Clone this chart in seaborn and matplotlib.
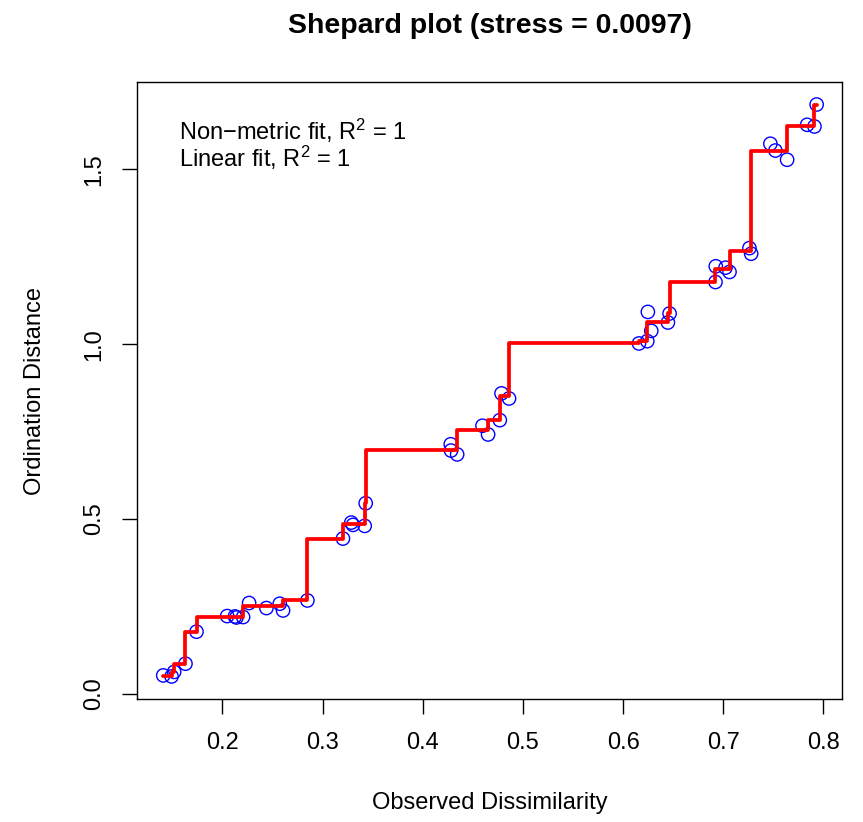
import matplotlib
matplotlib.use("Agg")
import matplotlib.pyplot as plt
import seaborn as sns
import pandas as pd

# Observed dissimilarity (sorted), ordination distance, and monotone (non-metric) fit
dissimilarity = [0.1409, 0.1492, 0.1518, 0.1631, 0.1741, 0.2047, 0.2124, 0.2140, 0.2206,
                 0.2266, 0.2439, 0.2572, 0.2605, 0.2848, 0.3203, 0.3286, 0.3303, 0.3420,
                 0.3430, 0.4279, 0.4282, 0.4343, 0.4596, 0.4652, 0.4769, 0.4786, 0.4861,
                 0.6158, 0.6241, 0.6247, 0.6281, 0.6447, 0.6464, 0.6922, 0.6925, 0.7022,
                 0.7062, 0.7261, 0.7278, 0.7470, 0.7520, 0.7637, 0.7837, 0.7910, 0.7932]
ordination = [0.053, 0.050, 0.063, 0.0865, 0.178, 0.2227, 0.2216, 0.2187, 0.2199,
              0.260, 0.2456, 0.258, 0.2387, 0.2673, 0.4443, 0.490, 0.4834, 0.4806,
              0.5454, 0.714, 0.696, 0.685, 0.767, 0.742, 0.783, 0.8595, 0.845,
              1.0023, 1.0089, 1.0925, 1.0383, 1.0622, 1.088, 1.178, 1.223, 1.219,
              1.2068, 1.275, 1.259, 1.5734, 1.554, 1.5277, 1.6276, 1.6228, 1.6856]
fitted = [0.0515, 0.0515, 0.063, 0.0865, 0.178, 0.2207, 0.2207, 0.2207, 0.2207,
          0.2506, 0.2506, 0.2506, 0.2506, 0.2673, 0.4443, 0.4847, 0.4847, 0.4847,
          0.5454, 0.698, 0.698, 0.698, 0.7545, 0.7545, 0.783, 0.852, 0.852,
          1.0023, 1.0089, 1.0643, 1.0643, 1.0643, 1.088, 1.178, 1.2163, 1.2163,
          1.2163, 1.267, 1.267, 1.5517, 1.5517, 1.5517, 1.6252, 1.6252, 1.6856]

x_ticks = [0.2, 0.3, 0.4, 0.5, 0.6, 0.7, 0.8]
y_ticks = [0.0, 0.5, 1.0, 1.5]
title = "Shepard plot (stress = 0.0097)"
legend_lines = ["Non\u2212metric fit, R$^{2}$ = 1", "Linear fit, R$^{2}$ = 1"]

df = pd.DataFrame({"dis": dissimilarity, "ord": ordination, "fit": fitted})

sns.set_style("white")
plt.rcParams["font.family"] = ["Liberation Sans", "DejaVu Sans"]
plt.rcParams["mathtext.fontset"] = "custom"
plt.rcParams["mathtext.rm"] = "Liberation Sans"
plt.rcParams["mathtext.it"] = "Liberation Sans:italic"
plt.rcParams["mathtext.bf"] = "Liberation Sans:bold"
plt.rcParams["text.color"] = "black"
plt.rcParams["axes.labelcolor"] = "black"
plt.rcParams["xtick.color"] = "black"
plt.rcParams["ytick.color"] = "black"

W, H = 863, 822
fig = plt.figure(figsize=(W / 100, H / 100), dpi=100)
ax = fig.add_axes([137 / W, 1 - 699 / H, (842 - 137) / W, (699 - 82) / H])

sns.scatterplot(data=df, x="dis", y="ord", ax=ax, marker="o", s=92,
                facecolor="none", edgecolor="blue", linewidth=1.0, zorder=2)
sns.lineplot(data=df, x="dis", y="fit", ax=ax, estimator=None, sort=True,
             drawstyle="steps-pre", color="red", linewidth=2.7, zorder=3)

ax.set_xlim(0.1147, 0.8185)
ax.set_ylim(-0.0145, 1.750)
ax.set_xticks(x_ticks)
ax.set_xticklabels([f"{v:.1f}" for v in x_ticks])
ax.set_yticks(y_ticks)
ax.set_yticklabels([f"{v:.1f}" for v in y_ticks])

for sp in ax.spines.values():
    sp.set_visible(True)
    sp.set_color("black")
    sp.set_linewidth(1.0)

ax.tick_params(axis="both", direction="out", length=10.8, width=1.0,
               color="black", labelsize=17, labelcolor="black",
               bottom=True, left=True, top=False, right=False)
ax.tick_params(axis="x", pad=13)
ax.tick_params(axis="y", pad=12)
for lab in ax.get_yticklabels():
    lab.set_rotation(90)
    lab.set_va("center")
    lab.set_ha("right")

ax.set_xlabel("Observed Dissimilarity", fontsize=17, va="center", color="black")
ax.xaxis.set_label_coords(0.5, -0.169)
ax.set_ylabel("Ordination Distance", fontsize=17, va="center", color="black")
ax.yaxis.set_label_coords(-0.145, 0.5)

fig.text(489.5 / W, 1 - 33 / H, title, ha="center", va="baseline",
         fontsize=20.5, fontweight="bold", color="black")

fig.text(179.3 / W, 1 - 140 / H, legend_lines[0], ha="left", va="baseline",
         fontsize=17, color="black")
fig.text(179.3 / W, 1 - 166.7 / H, legend_lines[1], ha="left", va="baseline",
         fontsize=17, color="black")

fig.savefig("out.png", dpi=100, facecolor="white")
